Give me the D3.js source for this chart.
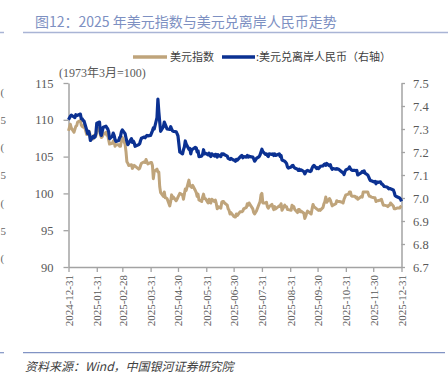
<!DOCTYPE html>
<html><head><meta charset="utf-8">
<script src="https://cdn.jsdelivr.net/npm/d3@7"></script>
<style>body{margin:0;background:#fff}svg{display:block}</style>
</head><body><svg id="c" width="448" height="378"></svg>
<script>
const dates = ["2024-12-31","2025-01-02","2025-01-03","2025-01-06","2025-01-07","2025-01-08","2025-01-09","2025-01-10","2025-01-13","2025-01-14","2025-01-15","2025-01-16","2025-01-17","2025-01-20","2025-01-21","2025-01-22","2025-01-23","2025-01-24","2025-01-27","2025-01-28","2025-01-29","2025-01-30","2025-01-31",
"2025-02-03","2025-02-04","2025-02-05","2025-02-06","2025-02-07","2025-02-10","2025-02-11","2025-02-12","2025-02-13","2025-02-14","2025-02-17","2025-02-18","2025-02-19","2025-02-20","2025-02-21","2025-02-24","2025-02-25","2025-02-26","2025-02-27","2025-02-28",
"2025-03-03","2025-03-04","2025-03-05","2025-03-06","2025-03-07","2025-03-10","2025-03-11","2025-03-12","2025-03-13","2025-03-14","2025-03-17","2025-03-18","2025-03-19","2025-03-20","2025-03-21","2025-03-24","2025-03-25","2025-03-26","2025-03-27","2025-03-28","2025-03-31",
"2025-04-01","2025-04-02","2025-04-03","2025-04-04","2025-04-07","2025-04-08","2025-04-09","2025-04-10","2025-04-11","2025-04-14","2025-04-15","2025-04-16","2025-04-17","2025-04-18","2025-04-21","2025-04-22","2025-04-23","2025-04-24","2025-04-25","2025-04-28","2025-04-29","2025-04-30",
"2025-05-02","2025-05-05","2025-05-06","2025-05-07","2025-05-08","2025-05-09","2025-05-12","2025-05-13","2025-05-14","2025-05-15","2025-05-16","2025-05-19","2025-05-20","2025-05-21","2025-05-22","2025-05-23","2025-05-26","2025-05-27","2025-05-28","2025-05-29","2025-05-30",
"2025-06-02","2025-06-03","2025-06-04","2025-06-05","2025-06-06","2025-06-09","2025-06-10","2025-06-11","2025-06-12","2025-06-13","2025-06-16","2025-06-17","2025-06-18","2025-06-19","2025-06-20","2025-06-23","2025-06-24","2025-06-25","2025-06-26","2025-06-27","2025-06-30",
"2025-07-01","2025-07-02","2025-07-03","2025-07-04","2025-07-07","2025-07-08","2025-07-09","2025-07-10","2025-07-11","2025-07-14","2025-07-15","2025-07-16","2025-07-17","2025-07-18","2025-07-21","2025-07-22","2025-07-23","2025-07-24","2025-07-25","2025-07-28","2025-07-29","2025-07-30","2025-07-31",
"2025-08-01","2025-08-04","2025-08-05","2025-08-06","2025-08-07","2025-08-08","2025-08-11","2025-08-12","2025-08-13","2025-08-14","2025-08-15","2025-08-18","2025-08-19","2025-08-20","2025-08-21","2025-08-22","2025-08-25","2025-08-26","2025-08-27","2025-08-28","2025-08-29",
"2025-09-01","2025-09-02","2025-09-03","2025-09-04","2025-09-05","2025-09-08","2025-09-09","2025-09-10","2025-09-11","2025-09-12","2025-09-15","2025-09-16","2025-09-17","2025-09-18","2025-09-19","2025-09-22","2025-09-23","2025-09-24","2025-09-25","2025-09-26","2025-09-29","2025-09-30",
"2025-10-01","2025-10-02","2025-10-03","2025-10-06","2025-10-07","2025-10-08","2025-10-09","2025-10-10","2025-10-13","2025-10-14","2025-10-15","2025-10-16","2025-10-17","2025-10-20","2025-10-21","2025-10-22","2025-10-23","2025-10-24","2025-10-27","2025-10-28","2025-10-29","2025-10-30","2025-10-31",
"2025-11-03","2025-11-04","2025-11-05","2025-11-06","2025-11-07","2025-11-10","2025-11-11","2025-11-12","2025-11-13","2025-11-14","2025-11-17","2025-11-18","2025-11-19","2025-11-20","2025-11-21","2025-11-24","2025-11-25","2025-11-26","2025-11-27","2025-11-28",
"2025-12-01","2025-12-02","2025-12-03","2025-12-04","2025-12-05","2025-12-08","2025-12-09","2025-12-10","2025-12-11","2025-12-12","2025-12-15","2025-12-16","2025-12-17","2025-12-18","2025-12-19","2025-12-22","2025-12-23","2025-12-24","2025-12-26","2025-12-29","2025-12-30","2025-12-31"];

const dollarIndex = [108.5,109.4,108.9,108.3,108.7,109.1,109.2,109.7,109.9,109.3,109.1,109.0,109.3,108.0,108.1,108.3,108.4,107.4,107.4,107.9,107.9,107.8,108.4,
108.9,107.9,107.6,107.7,108.0,108.3,107.9,107.9,107.3,106.7,106.8,107.1,107.2,106.4,106.6,106.6,106.4,106.4,107.2,107.6,
106.7,105.7,104.3,104.1,103.8,103.9,103.4,103.6,103.8,103.7,103.4,103.3,103.4,103.8,104.1,104.3,104.2,104.6,104.3,104.0,104.2,
104.2,103.8,102.0,103.0,103.3,102.9,102.9,100.9,100.1,99.6,100.2,99.4,99.4,99.3,98.3,98.9,99.8,99.3,99.5,99.0,99.2,99.5,
100.0,99.8,99.2,99.9,100.6,100.4,101.8,101.0,101.0,100.8,101.1,100.4,100.1,99.6,99.9,99.1,98.9,99.5,99.9,99.3,99.3,
98.7,99.2,98.8,98.7,99.2,98.9,99.1,98.6,97.9,98.2,98.0,98.8,98.9,98.9,98.7,98.4,97.9,97.7,97.2,97.4,96.9,
96.8,96.8,97.2,97.0,97.5,97.5,97.5,97.6,97.9,98.1,98.6,98.4,98.7,98.5,97.9,97.4,97.2,97.4,97.6,98.6,98.9,99.8,100.0,
98.7,98.7,98.8,98.2,98.0,98.2,98.5,98.1,97.8,98.2,97.9,98.2,98.3,98.2,98.6,97.7,98.4,98.2,98.2,97.8,97.8,
97.7,98.4,98.1,98.2,97.8,97.4,97.8,97.8,97.5,97.6,97.3,96.6,96.9,97.3,97.6,97.3,97.2,97.9,98.5,98.2,97.9,97.8,
97.7,97.8,97.7,98.1,98.6,98.9,99.5,98.8,99.3,99.1,98.7,98.3,98.4,98.6,99.0,98.9,98.9,98.9,98.8,98.7,99.2,99.5,99.8,
99.9,100.2,100.2,99.7,99.6,99.6,99.4,99.5,99.2,99.3,99.6,99.5,100.2,100.2,100.2,100.2,99.8,99.6,99.6,99.5,
99.4,99.4,98.9,99.0,99.0,99.1,99.2,98.8,98.4,98.4,98.3,98.2,98.4,98.4,98.7,98.3,97.9,97.9,98.0,98.0,98.2,98.3];

const usdCnh = [7.340,7.355,7.360,7.352,7.350,7.362,7.358,7.360,7.365,7.345,7.344,7.337,7.335,7.295,7.280,7.290,7.278,7.250,7.268,7.262,7.265,7.280,7.325,
7.330,7.282,7.272,7.290,7.308,7.312,7.306,7.300,7.288,7.258,7.268,7.282,7.272,7.255,7.246,7.250,7.262,7.268,7.288,7.296,
7.280,7.262,7.245,7.232,7.238,7.258,7.242,7.248,7.240,7.225,7.230,7.232,7.236,7.250,7.260,7.265,7.262,7.268,7.272,7.270,7.272,
7.282,7.292,7.305,7.300,7.350,7.430,7.375,7.330,7.290,7.310,7.330,7.320,7.310,7.300,7.298,7.310,7.300,7.292,7.290,7.288,7.280,7.270,
7.200,7.192,7.210,7.222,7.248,7.235,7.212,7.215,7.192,7.210,7.212,7.220,7.218,7.200,7.205,7.180,7.182,7.190,7.210,7.192,7.195,
7.188,7.195,7.185,7.180,7.192,7.182,7.190,7.188,7.178,7.188,7.180,7.192,7.190,7.192,7.188,7.182,7.172,7.170,7.168,7.172,7.165,
7.165,7.160,7.168,7.165,7.178,7.182,7.185,7.175,7.180,7.178,7.185,7.178,7.182,7.180,7.178,7.170,7.160,7.165,7.172,7.180,7.188,7.200,7.212,
7.202,7.190,7.192,7.185,7.180,7.192,7.190,7.192,7.185,7.192,7.185,7.190,7.192,7.180,7.185,7.165,7.160,7.155,7.150,7.135,7.130,
7.135,7.140,7.142,7.135,7.130,7.125,7.120,7.125,7.120,7.122,7.115,7.105,7.112,7.118,7.120,7.115,7.118,7.130,7.138,7.142,7.128,7.132,
7.128,7.132,7.138,7.140,7.145,7.148,7.142,7.150,7.140,7.145,7.132,7.125,7.128,7.125,7.128,7.125,7.126,7.122,7.112,7.110,7.102,7.115,7.122,
7.128,7.135,7.128,7.122,7.120,7.120,7.118,7.120,7.100,7.102,7.110,7.115,7.112,7.118,7.108,7.100,7.092,7.082,7.075,7.075,
7.070,7.072,7.062,7.070,7.068,7.070,7.062,7.060,7.055,7.050,7.048,7.045,7.040,7.042,7.040,7.035,7.025,7.010,7.005,7.000,6.995,6.985];

const xTickDates = ["2024-12-31","2025-01-31","2025-02-28","2025-03-31","2025-04-30","2025-05-31","2025-06-30","2025-07-31","2025-08-31","2025-09-30","2025-10-31","2025-11-30","2025-12-31"];
const leftTicks = [90,95,100,105,110,115];
const rightTicks = [6.7,6.8,6.9,7.0,7.1,7.2,7.3,7.4,7.5];
const seriesNames = ["美元指数",":美元兑离岸人民币（右轴）"];
const titleText = "图12：2025 年美元指数与美元兑离岸人民币走势";
const unitText = "(1973年3月=100)";
const sourceText = "资料来源：Wind，中国银河证券研究院";
const strayLabels = ["(","5","(","5","(","5","("];

const parse = d3.timeParse("%Y-%m-%d");
const fmt = d3.timeFormat("%Y-%m-%d");
const svg = d3.select("#c");
const L = 68.5, R = 401.5, T = 83, B = 267;
const serif = "'Liberation Serif','Times New Roman','Noto Sans CJK SC',serif";
const cjk = "'Noto Sans CJK SC','Liberation Serif',sans-serif";
const TAN = "#bfa47b", BLUE = "#0b3192", AX = "#a3a3a3", TXT = "#595959";

const x = d3.scaleTime().domain([parse(xTickDates[0]), parse(xTickDates[xTickDates.length-1])]).range([L, R]);
const yL = d3.scaleLinear().domain([90,115]).range([B, T]);
const yR = d3.scaleLinear().domain([6.7,7.5]).range([B, T]);

// title
svg.append("text").attr("x",35).attr("y",26.5).attr("font-family",cjk).attr("font-size",14)
  .attr("fill","#7d90c2").text(titleText);
svg.append("line").attr("x1",23).attr("x2",448).attr("y1",32.5).attr("y2",32.5).attr("stroke","#a9b4d5").attr("stroke-width",1.5);
svg.append("line").attr("x1",0).attr("x2",4).attr("y1",32.5).attr("y2",32.5).attr("stroke","#a9b4d5").attr("stroke-width",1.5);

// legend
const lg = svg.append("g");
lg.append("line").attr("x1",133).attr("x2",167).attr("y1",57).attr("y2",57).attr("stroke",TAN).attr("stroke-width",3.5);
lg.append("text").attr("x",170).attr("y",61).attr("font-family",cjk).attr("font-size",11).attr("fill","#404040").text(seriesNames[0]);
lg.append("line").attr("x1",222).attr("x2",255).attr("y1",57).attr("y2",57).attr("stroke",BLUE).attr("stroke-width",3.5);
lg.append("text").attr("x",256).attr("y",61).attr("font-family",cjk).attr("font-size",11).attr("fill","#404040").text(seriesNames[1]);

svg.append("text").attr("x",59).attr("y",77).attr("font-family",serif).attr("font-size",12).attr("fill",TXT).text(unitText);

// partial labels of a neighbouring chart at the far left edge
strayLabels.forEach((s,i)=>{
  svg.append("text").attr("x",0.5).attr("y",92+i*27.7+4).attr("font-family",serif).attr("font-size",11).attr("fill","#666").text(s);
});

function styleAxis(g){
  g.select(".domain").attr("stroke",AX).attr("stroke-width",1.5);
  g.selectAll(".tick line").attr("stroke",AX).attr("stroke-width",1.3);
  g.selectAll(".tick text").attr("fill",TXT).attr("font-family",serif);
}

const gl = svg.append("g").attr("transform",`translate(${L},0)`)
  .call(d3.axisLeft(yL).tickValues(leftTicks).tickSize(5).tickSizeOuter(0).tickPadding(10).tickFormat(d3.format("d")));
styleAxis(gl); gl.selectAll(".tick text").attr("font-size",12.5);

const gr = svg.append("g").attr("transform",`translate(${R},0)`)
  .call(d3.axisRight(yR).tickValues(rightTicks).tickSize(3.5).tickSizeOuter(0).tickPadding(8).tickFormat(d3.format(".1f")));
styleAxis(gr); gr.selectAll(".tick text").attr("font-size",12.5);

const gb = svg.append("g").attr("transform",`translate(0,${B})`)
  .call(d3.axisBottom(x).tickValues(xTickDates.map(parse)).tickSize(5).tickSizeOuter(0).tickFormat(fmt));
styleAxis(gb);
gb.selectAll(".tick text").attr("font-size",11).attr("transform","rotate(-90)")
  .attr("text-anchor","end").attr("x",-8).attr("y",0).attr("dy","0.35em");

// lines
const pts = dates.map((d,i)=>({d:parse(d), a:dollarIndex[i], b:usdCnh[i]}));
svg.append("path").datum(pts).attr("fill","none").attr("stroke",TAN).attr("stroke-width",3).attr("stroke-linejoin","round")
  .attr("d", d3.line().x(p=>x(p.d)).y(p=>yL(p.a)));
svg.append("path").datum(pts).attr("fill","none").attr("stroke",BLUE).attr("stroke-width",3.2).attr("stroke-linejoin","round")
  .attr("d", d3.line().x(p=>x(p.d)).y(p=>yR(p.b)));

// footer
svg.append("line").attr("x1",23).attr("x2",445).attr("y1",352.7).attr("y2",352.7).attr("stroke","#8193c4").attr("stroke-width",1.2);
svg.append("line").attr("x1",0).attr("x2",4).attr("y1",352.7).attr("y2",352.7).attr("stroke","#8193c4").attr("stroke-width",1.2);
svg.append("text").attr("x",25).attr("y",371).attr("font-family",cjk).attr("font-style","italic").attr("font-size",12)
  .attr("fill","#404040").text(sourceText);
</script></body></html>
